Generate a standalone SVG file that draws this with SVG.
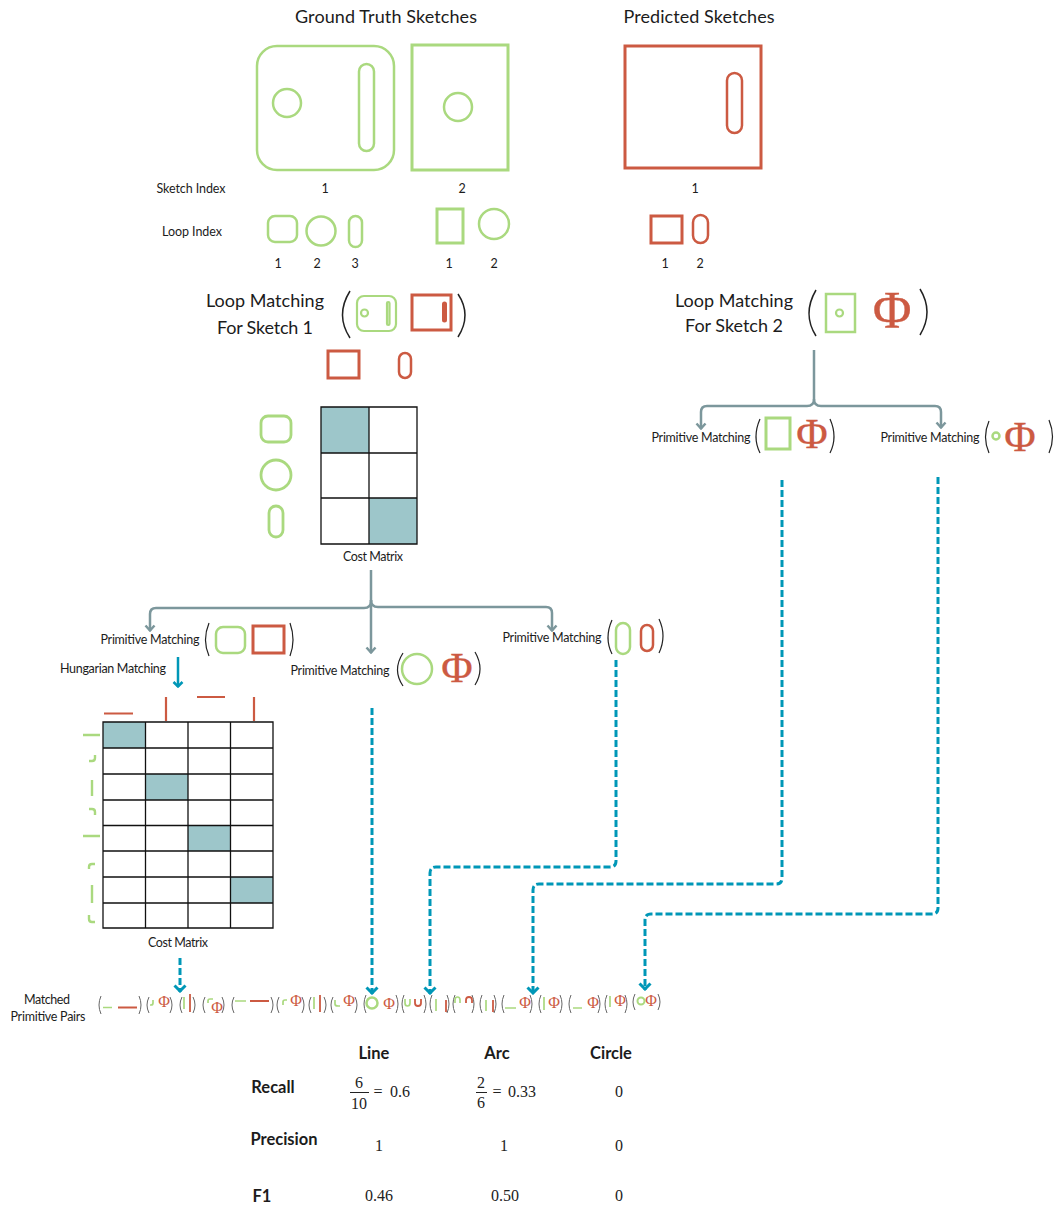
<svg xmlns="http://www.w3.org/2000/svg" width="1056" height="1209" viewBox="0 0 1056 1209">
<style>
text{font-family:"Lato","Liberation Sans",sans-serif;fill:#1c1c1c}
.t{font-size:18px;text-anchor:middle}
.s{font-size:12.500px;text-anchor:middle}
.b{font-size:16.500px;font-weight:700;text-anchor:middle}
.m{font-family:"Liberation Serif",serif;font-size:16px;text-anchor:middle;fill:#222}
text.phi{font-family:"Liberation Serif",serif;fill:#cc5a42;text-anchor:middle}
.phib{stroke:#cc5a42;stroke-width:.3}
.g{fill:none;stroke:#aad97f}
.r{fill:none;stroke:#cc5a42}
.p{fill:none;stroke:#222;stroke-width:1.500}
.q{fill:none;stroke:#666;stroke-width:1}
.pp{fill:none;stroke:#222;stroke-width:1.200}
.grid{fill:none;stroke:#111;stroke-width:1.300}
.cell{fill:#9dc6ca}
.arrow{fill:none;stroke:#7c979c;stroke-width:2.500}
.dash{fill:none;stroke:#0097b7;stroke-width:3;stroke-dasharray:7 3}
.solid{fill:none;stroke:#0097b7;stroke-width:2.500}
</style>
<defs>
<marker id="ga" markerUnits="userSpaceOnUse" markerWidth="12" markerHeight="10" refX="6" refY="9" viewBox="0 0 12 10"><path d="M1.500 3.500L6 8.500L10.500 3.500" fill="none" stroke="#7c979c" stroke-width="2.500"/></marker>
<marker id="ta" markerUnits="userSpaceOnUse" markerWidth="14" markerHeight="11" refX="7" refY="10" viewBox="0 0 14 11"><path d="M1.500 3.500L7 9L12.500 3.500" fill="none" stroke="#0097b7" stroke-width="3"/></marker>
<marker id="tb" markerUnits="userSpaceOnUse" markerWidth="12" markerHeight="10" refX="6" refY="9" viewBox="0 0 12 10"><path d="M1.500 4L6 8.500L10.500 4" fill="none" stroke="#0097b7" stroke-width="2.500"/></marker>
</defs>

<g id="connectors">
<path class="arrow" marker-end="url(#ga)" d="M371 570V601Q371 608 364 608H156Q150 608 150 614V631"/>
<path class="arrow" marker-end="url(#ga)" d="M371 600V653"/>
<path class="arrow" marker-end="url(#ga)" d="M371 600Q371 607 378 607H546Q552 607 552 613V631"/>
<path class="arrow" marker-end="url(#ga)" d="M814 350V399Q814 406 807 406H707Q701 406 701 412V429"/>
<path class="arrow" marker-end="url(#ga)" d="M814 399Q814 406 821 406H935Q941 406 941 412V428"/>
<path class="solid" marker-end="url(#tb)" d="M178 657V687"/>
<path class="dash" marker-end="url(#ta)" d="M180 958V992"/>
<path class="dash" marker-end="url(#ta)" d="M372 708V994"/>
<path class="dash" marker-end="url(#ta)" d="M616 660V861Q616 867 610 867H436Q430 867 430 873V994"/>
<path class="dash" marker-end="url(#ta)" d="M782 480V878Q782 884 776 884H539Q533 884 533 890V994"/>
<path class="dash" marker-end="url(#ta)" d="M938 477V908Q938 914 932 914H651Q645 914 645 920V990"/>
</g>

<g id="headers">
<text class="t" x="386" y="23" textLength="182">Ground Truth Sketches</text>
<text class="t" x="699" y="23" textLength="151">Predicted Sketches</text>
</g>

<g id="gt-sketch-1" class="g" stroke-width="2.500">
<rect x="257" y="46" width="137" height="124" rx="20"/>
<circle cx="287" cy="103" r="14"/>
<rect x="359" y="64" width="15" height="87" rx="7.500"/>
</g>
<g id="gt-sketch-2" class="g" stroke-width="2.500">
<rect x="412" y="45" width="96" height="125" stroke-width="3"/>
<circle cx="458" cy="107" r="14"/>
</g>
<g id="pred-sketch-1" class="r" stroke-width="2.500">
<rect x="625" y="46" width="136" height="122" stroke-width="3"/>
<rect x="727" y="73" width="15" height="60" rx="7.500"/>
</g>

<g id="index-labels">
<text class="s" x="191" y="193" textLength="69">Sketch Index</text>
<text class="s" x="325" y="193">1</text>
<text class="s" x="462" y="193">2</text>
<text class="s" x="695" y="193">1</text>
<text class="s" x="192" y="236" textLength="60">Loop Index</text>
<text class="s" x="278" y="268">1</text>
<text class="s" x="317" y="268">2</text>
<text class="s" x="355" y="268">3</text>
<text class="s" x="449" y="268">1</text>
<text class="s" x="494" y="268">2</text>
<text class="s" x="665" y="268">1</text>
<text class="s" x="700" y="268">2</text>
</g>

<g id="gt-loops" class="g" stroke-width="2.500">
<rect x="268" y="216" width="29" height="26" rx="7"/>
<circle cx="321" cy="231" r="14.500"/>
<rect x="349" y="216" width="13" height="31" rx="6.500"/>
<rect x="437" y="209" width="26" height="34" stroke-width="3"/>
<circle cx="494" cy="224" r="15"/>
</g>
<g id="pred-loops" class="r" stroke-width="2.500">
<rect x="651" y="216" width="31" height="27" stroke-width="3"/>
<rect x="693" y="215" width="15" height="28" rx="7.500"/>
</g>

<g id="loop-matching-1">
<text class="t" x="265" y="307" textLength="118">Loop Matching</text>
<text class="t" x="265" y="334" textLength="96">For Sketch 1</text>
<path class="p" d="M350 291Q335 315 350 338"/>
<path class="p" d="M458 294Q472 315 458 337"/>
<g class="g" stroke-width="2.200">
<rect x="357" y="296" width="39" height="35" rx="7"/>
<circle cx="364.500" cy="313" r="3.500"/>
<rect x="387" y="302" width="2.500" height="23" rx="1.200"/>
</g>
<g class="r" stroke-width="3">
<rect x="412" y="295" width="39" height="35"/>
<rect x="443.500" y="303" width="2" height="18" rx="1"/>
</g>
<rect class="r" stroke-width="3" x="328" y="351" width="31" height="27"/>
<rect class="r" stroke-width="2.500" x="399" y="353" width="12" height="25" rx="6"/>
</g>

<g id="loop-matching-2">
<text class="t" x="734" y="307" textLength="118">Loop Matching</text>
<text class="t" x="734" y="332" textLength="98">For Sketch 2</text>
<path class="p" d="M816 290Q802 314 816 336"/>
<path class="p" d="M920 289Q934 312 920 335"/>
<g class="g"><rect x="826" y="294" width="29" height="38" stroke-width="2.500"/><circle cx="839.500" cy="313" r="3.500" stroke-width="2.200"/></g>
<text class="phi phib" x="892" y="328" font-size="53">Φ</text>
</g>

<g id="cost-matrix-1">
<g class="g" stroke-width="2.800"><rect x="261" y="416" width="30" height="26" rx="7"/><circle cx="276" cy="475" r="15"/><rect x="269" y="506" width="14" height="31" rx="7"/></g>
<rect class="cell" x="321" y="407" width="48" height="46"/>
<rect class="cell" x="369" y="498" width="48" height="46"/>
<path class="grid" d="M321 407H417V544H321ZM369 407V544M321 453H417M321 498H417"/>
<text class="s" x="373" y="561" textLength="60">Cost Matrix</text>
</g>

<g id="pm-1-1">
<text class="s" x="150" y="644" textLength="99">Primitive Matching</text>
<path class="pp" d="M209 623Q202 640 209 656"/>
<path class="pp" d="M290 623Q296 640 290 656"/>
<rect class="g" stroke-width="2.500" x="216" y="627" width="29" height="26" rx="7"/>
<rect class="r" stroke-width="3" x="253" y="626" width="31" height="27"/>
</g>
<g id="pm-1-2">
<text class="s" x="340" y="675" textLength="99">Primitive Matching</text>
<path class="pp" d="M403 653Q392 670 403 686"/>
<path class="pp" d="M475 652Q485 669 475 685"/>
<circle class="g" stroke-width="2.500" cx="417" cy="669" r="15"/>
<text class="phi phib" x="457" y="682" font-size="43">Φ</text>
</g>
<g id="pm-1-3">
<text class="s" x="552" y="642" textLength="99">Primitive Matching</text>
<path class="pp" d="M612 620Q604 638 612 654"/>
<path class="pp" d="M659 619Q667 636 659 653"/>
<rect class="g" stroke-width="2.500" x="616" y="623" width="14" height="31" rx="7"/>
<rect class="r" stroke-width="2.500" x="641" y="625" width="12" height="26" rx="6"/>
</g>
<g id="pm-2-1">
<text class="s" x="701" y="442" textLength="99">Primitive Matching</text>
<path class="pp" d="M760 419Q752 437 760 453"/>
<path class="pp" d="M830 419Q838 437 830 453"/>
<rect class="g" stroke-width="3" x="766" y="418" width="24" height="31"/>
<text class="phi phib" x="812" y="448" font-size="43">Φ</text>
</g>
<g id="pm-2-2">
<text class="s" x="930" y="442" textLength="99">Primitive Matching</text>
<path class="pp" d="M989 421Q982 437 989 453"/>
<path class="pp" d="M1049 420Q1056 437 1049 453"/>
<circle class="g" stroke-width="2.500" cx="996" cy="436" r="3.500"/>
<text class="phi phib" x="1020" y="451" font-size="43">Φ</text>
</g>

<g id="hungarian-matching">
<text class="s" x="113" y="673" textLength="106">Hungarian Matching</text>
<g class="r" stroke-width="2.200">
<path d="M104 713.500H133M166 697V721M197 697H225M254 697V721"/>
</g>
<g class="g" stroke-width="2.400">
<path d="M83 735H100M95 755V758Q95 761 92 761H89M92 780V796M89 809H92Q95 809 95 812V815M83 836H100M95 864H92Q89 864 89 867V869M92 885V903M89 915V919Q89 922 92 922H95"/>
</g>
<rect class="cell" x="103" y="722" width="42.500" height="26"/>
<rect class="cell" x="145.500" y="774" width="42.500" height="26"/>
<rect class="cell" x="188" y="825.500" width="42.500" height="25.500"/>
<rect class="cell" x="230.500" y="877" width="42.500" height="26"/>
<path class="grid" d="M103 722H273V928H103ZM145.500 722V928M188 722V928M230.500 722V928M103 748H273M103 774H273M103 800H273M103 825.500H273M103 851H273M103 877H273M103 903H273"/>
<text class="s" x="178" y="947" textLength="60">Cost Matrix</text>
</g>

<g id="matched-pairs">
<text class="s" x="47" y="1004" textLength="46">Matched</text>
<text class="s" x="48" y="1021" textLength="75">Primitive Pairs</text>
<path class="q" d="M101 996Q97 1005 101 1014M139 996Q143 1005 139 1014M149 997Q145 1005 149 1013M170 997Q174 1005 170 1013M182 997Q178 1005 182 1013M193 997Q197 1005 193 1013M205 997Q201 1005 205 1013M222 997Q226 1005 222 1013M234 997Q230 1005 234 1013M271 997Q275 1005 271 1013M279 997Q275 1005 279 1013M302 997Q306 1005 302 1013M311 997Q307 1005 311 1013M324 997Q328 1005 324 1013M333 997Q329 1005 333 1013M355 997Q359 1005 355 1013M366 995Q362 1004 366 1013M396 995Q400 1004 396 1013M404 995Q400 1004 404 1013M424 995Q428 1004 424 1013M432 995Q428 1004 432 1013M447 995Q451 1004 447 1013M455 995Q451 1004 455 1013M472 995Q476 1004 472 1013M482 995Q478 1004 482 1013M494 995Q498 1004 494 1013M504 995Q500 1004 504 1013M530 995Q534 1004 530 1013M541 995Q537 1004 541 1013M560 995Q564 1004 560 1013M571 995Q567 1004 571 1013M598 995Q602 1004 598 1013M607 995Q603 1004 607 1013M625 995Q629 1004 625 1013M635 994Q631 1002 635 1010M658 994Q662 1002 658 1010"/>
<g class="g" stroke-width="1.700">
<path d="M103 1007.500H112M153 1000V1003Q153 1005 151 1005H150M184 997V1009M208 1003V1001Q208 999 210 999H213M235 1001H246M283 1005V1002Q283 1000 285 1000H287M314 997V1009M335 1000V1004Q335 1006 338 1006H340M405 999V1003Q405 1006 407.500 1006Q410 1006 410 1003V999M436 999V1011M455 1003V1000Q455 997 457.500 997Q460 997 460 1000V1003M486 1000V1011M505 1008H516M544 997V1010M573 1008H582M610 996V1007"/>
<circle cx="372" cy="1003" r="5.500" stroke-width="2.500"/>
<circle cx="641" cy="1001" r="3.500" stroke-width="2"/>
</g>
<path class="r" stroke-width="1.800" d="M118 1007.500H137M190 994V1012M250 1001H269M320 995V1012M415 999V1003Q415 1006 418 1006Q421 1006 421 1003V999M446 1000V1012M466 1003V1000Q466 997 469 997Q472 997 472 1000V1003M493 1000V1012"/>
<g font-size="16">
<text class="phi" x="164" y="1007">Φ</text><text class="phi" x="217" y="1013">Φ</text><text class="phi" x="296" y="1006">Φ</text><text class="phi" x="349" y="1006">Φ</text><text class="phi" x="389" y="1009">Φ</text><text class="phi" x="525" y="1008">Φ</text><text class="phi" x="554" y="1008">Φ</text><text class="phi" x="593" y="1008">Φ</text><text class="phi" x="620" y="1006">Φ</text><text class="phi" x="651" y="1006">Φ</text>
</g>
</g>

<g id="metrics">
<text class="b" x="374" y="1059">Line</text>
<text class="b" x="497" y="1059">Arc</text>
<text class="b" x="611" y="1059">Circle</text>
<text class="b" x="273" y="1093">Recall</text>
<text class="b" x="284" y="1145">Precision</text>
<text class="b" x="262" y="1202">F1</text>
<text class="m" x="359" y="1088">6</text>
<path d="M350 1092.500H369M476 1092.500H487" stroke="#222" stroke-width="1"/>
<text class="m" x="359" y="1109">10</text>
<text class="m" x="378" y="1097">=</text>
<text class="m" x="400" y="1097">0.6</text>
<text class="m" x="497" y="1097">=</text>
<text class="m" x="522" y="1097">0.33</text>
<text class="m" x="481" y="1088">2</text>
<text class="m" x="481" y="1108">6</text>
<text class="m" x="619" y="1097">0</text>
<text class="m" x="379" y="1151">1</text>
<text class="m" x="504" y="1151">1</text>
<text class="m" x="619" y="1151">0</text>
<text class="m" x="379" y="1201">0.46</text>
<text class="m" x="505" y="1201">0.50</text>
<text class="m" x="619" y="1201">0</text>
</g>
</svg>
